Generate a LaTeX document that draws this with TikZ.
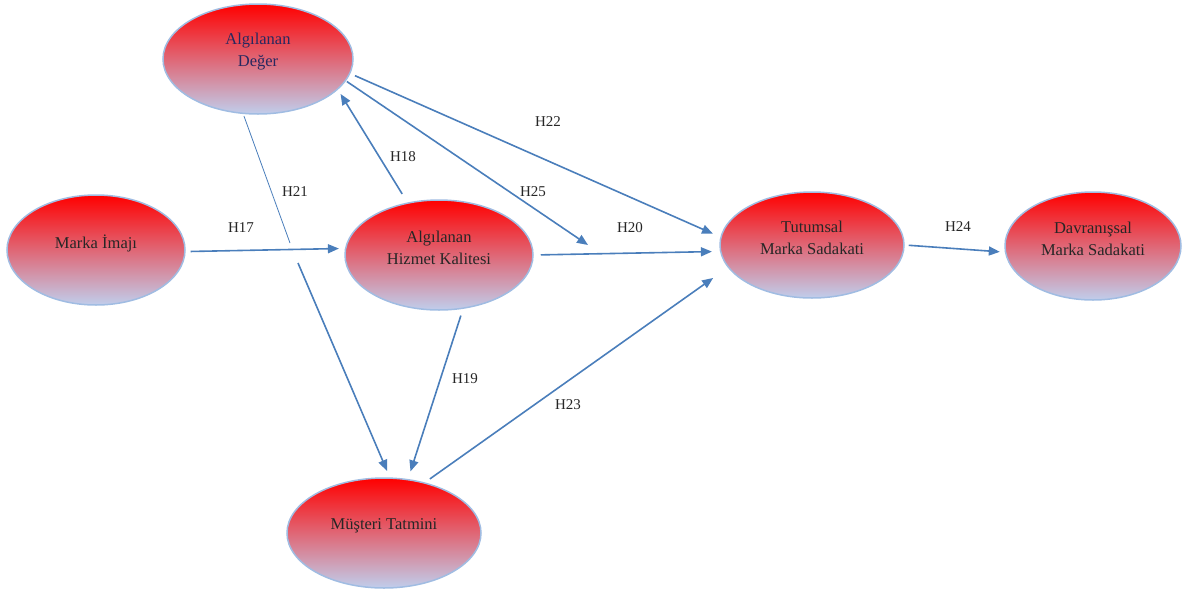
\documentclass[tikz,border=0pt]{standalone}
\usepackage{fontspec}
\setmainfont{Liberation Serif}
\usetikzlibrary{shapes.geometric,arrows.meta}
\definecolor{lav}{RGB}{192,206,236}
\definecolor{mid}{RGB}{226,86,100}
\definecolor{rim}{RGB}{160,188,226}
\definecolor{arr}{RGB}{74,126,187}
\definecolor{navy}{RGB}{40,40,95}
\tikzset{
  construct/.style={ellipse, draw=rim, line width=1.5pt, top color=red, middle color=mid, bottom color=lav,
    inner sep=0pt},
  lbl/.style={font=\fontsize{16.5}{22}\selectfont, text=black!85, align=center, inner sep=0pt, yshift=7pt},
  link/.style={draw=arr, line width=1.6pt, -{Triangle[length=11pt,width=9pt]}},
  plain/.style={draw=arr, line width=0.8pt},
  hlabel/.style={font=\fontsize{15}{17}\selectfont, text=black!85, inner sep=0pt}
}
\begin{document}
\begin{tikzpicture}[x=1pt,y=-1pt]
\useasboundingbox (0,0) rectangle (1187,590);
\node[construct, minimum width=190pt, minimum height=110pt,
  label={[lbl,text=navy]center:Algılanan\\Değer}] (deg) at (258,59) {};
\node[construct, minimum width=178pt, minimum height=110pt,
  label={[lbl]center:Marka İmajı}] (mi) at (96,250) {};
\node[construct, minimum width=188pt, minimum height=110pt,
  label={[lbl]center:Algılanan\\Hizmet Kalitesi}] (hk) at (439,255) {};
\node[construct, minimum width=194pt, minimum height=110pt,
  label={[lbl]center:Müşteri Tatmini}] (mt) at (384,533) {};
\node[construct, minimum width=184pt, minimum height=106pt,
  label={[lbl]center:Tutumsal\\Marka Sadakati}] (tm) at (812,245) {};
\node[construct, minimum width=176pt, minimum height=108pt,
  label={[lbl]center:Davranışsal\\Marka Sadakati}] (dv) at (1093,246) {};

\coordinate (h21a) at (290,243);
\coordinate (h21b) at (298,263);
\coordinate (h25e) at (588,245);

% H17
\draw[link, shorten <=5pt, shorten >=6pt] (mi.-1) -- (hk.176.5);
% H18
\draw[link, shorten <=10pt, shorten >=5pt] (hk.121.7) -- (deg.-21);
% H22
\draw[link, shorten <=5pt, shorten >=8pt] (deg.-9.4) -- (tm.175.4);
% H25
\draw[link, shorten <=1pt] (deg.-14.8) -- (h25e);
% H21
\draw[plain, shorten <=2pt] (deg.-105) -- (h21a);
\draw[link, shorten >=7pt] (h21b) -- (mt.84.6);
% H20
\draw[link, shorten <=7pt, shorten >=8pt] (hk.0) -- (tm.184);
% H19
\draw[link, shorten <=7pt, shorten >=8pt] (hk.-66.6) -- (mt.66.9);
% H23
\draw[link, shorten <=6pt, shorten >=18pt] (mt.51.3) -- (tm.195);
% H24
\draw[link, shorten <=4pt, shorten >=5pt] (tm.0) -- (dv.184);

\node[hlabel] (l22) at (548,122) {H22};
\node[hlabel] (l18) at (403,157) {H18};
\node[hlabel] (l21) at (295,192) {H21};
\node[hlabel] (l25) at (533,192) {H25};
\node[hlabel] (l17) at (241,228) {H17};
\node[hlabel] (l20) at (630,228) {H20};
\node[hlabel] (l24) at (958,227) {H24};
\node[hlabel] (l19) at (465,379) {H19};
\node[hlabel] (l23) at (568,405) {H23};
\end{tikzpicture}
\end{document}
